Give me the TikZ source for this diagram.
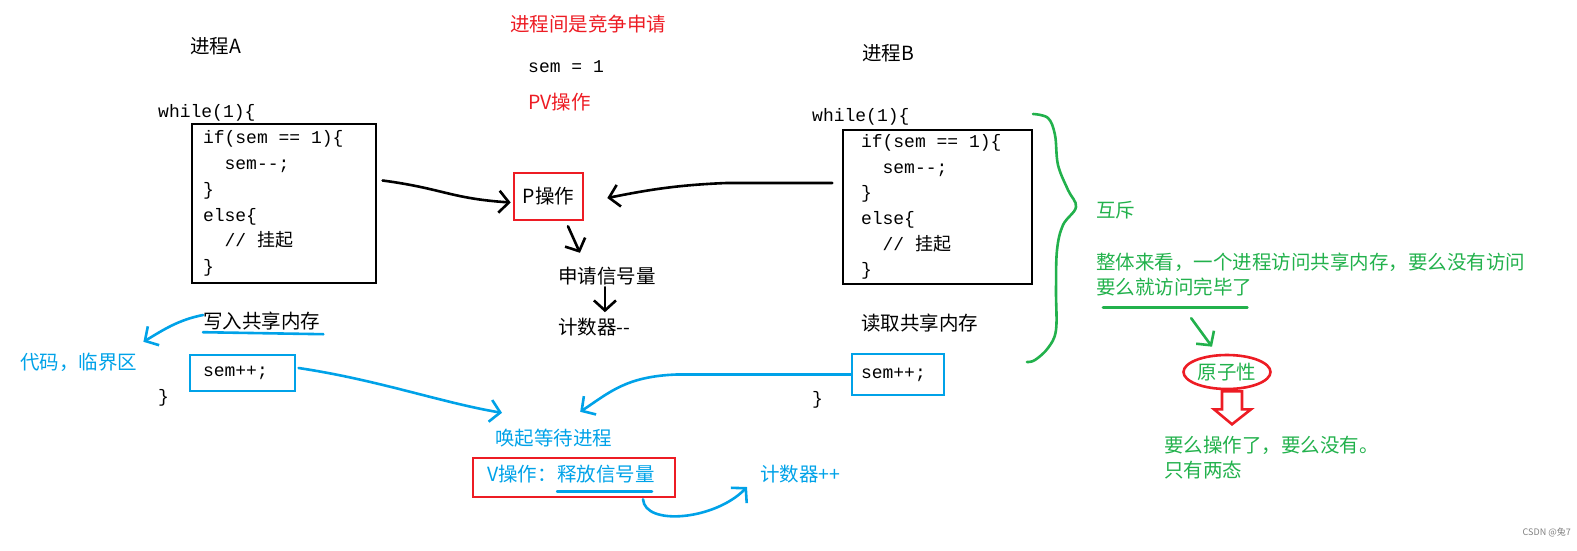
\documentclass[tikz,border=0pt]{standalone}
\usepackage{fontspec}
\setmainfont{Noto Sans CJK SC}
\setmonofont{Liberation Mono}
\newfontfamily\cjk{Noto Sans CJK SC}
\usetikzlibrary{arrows.meta,positioning,shapes.geometric}
\definecolor{paintred}{RGB}{237,28,36}
\definecolor{paintblue}{RGB}{0,162,232}
\definecolor{paintgreen}{RGB}{34,177,76}
\newcommand{\csp}{\hspace*{0.6em}}

\begin{document}
\begin{tikzpicture}[x=1pt, y=-1pt,
  txt/.style={inner sep=0pt, anchor=west, font=\fontsize{19.5}{25}\selectfont, text height=17pt, text depth=3pt},
  note/.style={inner sep=0pt, anchor=west, align=left, font=\fontsize{19.5}{25}\selectfont},
  codeline/.style={inner sep=0pt, anchor=west, font=\ttfamily\fontsize{18}{25.7}\selectfont, text height=14pt, text depth=4pt},
  codebox/.style={draw, line width=1.2pt, align=left, inner ysep=0pt, font=\ttfamily\fontsize{18}{25.7}\selectfont},
  semcell/.style={draw=paintblue, line width=1.2pt, align=left, inner ysep=0pt, font=\ttfamily\fontsize{18}{25.7}\selectfont},
  redbox/.style={draw=paintred, line width=2.6pt},
  ink/.style={line width=2.6pt, line cap=round, line join=round, -{Straight Barb[length=10pt,width=22pt]}},
  bink/.style={ink, paintblue},
  gink/.style={ink, paintgreen},
  stroke/.style={line width=2.6pt, line cap=round}
]
\useasboundingbox (0,0) rectangle (1577,550);

% process A
\node[txt] (procA) at (190,46) {进程A};
\node[codeline] (whileA) at (158,112) {while(1)\{};
\node[codebox, text width=162pt, inner xsep=11pt, minimum height=159pt] (boxA) at (284,203.5)
  {if(sem\csp==\csp1)\{\\\csp\csp sem-{}-;\\\}\\else\{\\\csp\csp//\csp{\cjk 挂起}\\\}};
\node[txt] (write) at (203,321) {写入共享内存};
\node[txt, paintblue] (crit) at (20,362) {代码，临界区};
\node[semcell, text width=79pt, inner xsep=13pt, minimum height=36pt] (semA) at (242.5,373) {sem++;};
\node[codeline] (endA) at (158,397) {\}};

% semaphore
\node[txt, paintred] (compete) at (510,24) {进程间是竞争申请};
\node[codeline] (init) at (528,67) {sem\csp=\csp1};
\node[txt, paintred] (pv) at (528,102) {PV操作};
\node[txt, redbox, anchor=center, minimum width=69pt, minimum height=47pt] (pbox) at (548.5,196.5) {P操作};
\node[txt] (apply) at (558,276) {申请信号量};
\node[txt] (dec) at (558,327) {计数器-{}-};
\node[txt, paintblue] (wake) at (495,438) {唤起等待进程};
\node[redbox, minimum width=202pt, minimum height=39pt] (vbox) at (574,477.5) {};
\node[txt, paintblue] (vop) at (487,474) {V操作：};
\node[txt, paintblue, right=0pt of vop] (release) {释放信号量};
\node[txt, paintblue] (inc) at (760,474) {计数器++};

% process B
\node[txt] (procB) at (862,53) {进程B};
\node[codeline] (whileB) at (812,116) {while(1)\{};
\node[codebox, text width=153pt, inner xsep=18pt, minimum height=154pt] (boxB) at (937.5,207)
  {if(sem\csp==\csp1)\{\\\csp\csp sem-{}-;\\\}\\else\{\\\csp\csp//\csp{\cjk 挂起}\\\}};
\node[txt] (read) at (861,323) {读取共享内存};
\node[semcell, text width=74pt, inner xsep=9pt, minimum height=41pt] (semB) at (898,374.5) {sem++;};
\node[codeline] (endB) at (812,399) {\}};

% notes
\node[txt, paintgreen] (mutex) at (1096,210) {互斥};
\node[txt, paintgreen] (whole) at (1096,262) {整体来看，一个进程访问共享内存，要么没有访问};
\node[txt, paintgreen] (done) at (1096,287) {要么就访问完毕了};
\node[txt, paintgreen, anchor=center, draw=paintred, line width=2.6pt, ellipse, inner sep=0pt, minimum width=87pt, minimum height=34pt] (atom) at (1227,372) {原子性};
\node[note, paintgreen] (twostate) at (1164,458) {要么操作了，要么没有。\\只有两态};
\node[inner sep=0pt, anchor=east, text=gray, font=\fontsize{9}{10}\selectfont] (stamp) at (1571,532) {CSDN @兔7};

% P side
\draw[ink] ([xshift=6pt,yshift=23pt]boxA.east) .. controls +(60,8) and +(-60,-4) .. ([xshift=-2pt,yshift=-6pt]pbox.west);
\draw[ink] ([xshift=-10pt,yshift=24pt]boxB.west) -- ++(-106,0) .. controls +(-50,2) and +(40,-8) .. ([xshift=23pt,yshift=-1.5pt]pbox.east);
\draw[ink] ([xshift=19.5pt,yshift=-5pt]pbox.south) -- ([xshift=-27pt,yshift=13pt]apply.north);
\draw[ink] ([xshift=-2pt,yshift=-1pt]apply.south) -- ([xshift=-2pt,yshift=-26pt]apply.south);

% V side
\draw[stroke, paintblue] ([yshift=-1pt]write.south west) -- ([xshift=3pt,yshift=-3pt]write.south east);
\draw[bink] ([yshift=6pt]write.west) .. controls +(-25,5) and +(20,-12) .. ([xshift=6pt,yshift=10pt]crit.north east);
\draw[bink] ([xshift=3pt,yshift=5pt]semA.east) .. controls +(80,12) and +(-60,-10) .. ([xshift=7pt,yshift=15pt]wake.north west);
\draw[bink] (semB.west) -- ++(-175,0) .. controls +(-50,2) and +(30,-20) .. ([xshift=26.5pt,yshift=16pt]wake.north);
\draw[stroke, paintblue] ([yshift=-7pt]release.south west) -- ([xshift=-3pt,yshift=-7pt]release.south east);
\draw[bink] ([xshift=69pt,yshift=-1pt]vbox.south) .. controls +(2,27) and +(-32,33) .. ([xshift=-13pt,yshift=-13pt]inc.west);

% mutex brace
\draw[stroke, paintgreen, line join=round] plot[smooth, tension=0.6] coordinates {(1033,114) (1048,118) (1055,135) (1058,165) (1068,190) (1076,207) (1063,225) (1057,250) (1056,290) (1056,330) (1048,348) (1035,360) (1027,362)};
\draw[stroke, paintgreen] ([xshift=7pt,yshift=-10pt]done.south west) -- ([xshift=-5pt,yshift=-10pt]done.south east);
\draw[gink] ([xshift=17pt,yshift=-21pt]done.south) -- ([xshift=-15pt,yshift=7pt]atom.north);
\draw[paintred, line width=2.6pt] ([xshift=-5pt,yshift=-1pt]atom.south) -- ++(20,0) -- ++(0,18) -- ++(9,0) -- ++(-19,15) -- ++(-18,-15) -- ++(8,0) -- cycle;
\end{tikzpicture}
\end{document}
